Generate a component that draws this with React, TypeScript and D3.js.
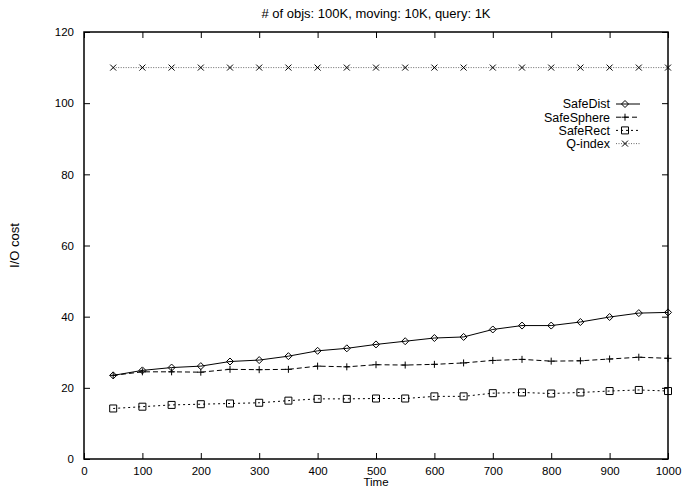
import { useEffect, useRef } from "react";
import * as d3 from "d3";

const times = [50, 100, 150, 200, 250, 300, 350, 400, 450, 500, 550, 600, 650, 700, 750, 800, 850, 900, 950, 1000];
const safeDist = [23.5, 24.9, 25.7, 26.1, 27.4, 27.8, 28.9, 30.4, 31.1, 32.2, 33.1, 34.0, 34.3, 36.4, 37.5, 37.5, 38.5, 39.9, 41.0, 41.2];
const safeSphere = [23.5, 24.5, 24.5, 24.4, 25.2, 25.1, 25.2, 26.1, 25.9, 26.5, 26.4, 26.6, 27.0, 27.7, 28.0, 27.5, 27.6, 28.1, 28.6, 28.3];
const safeRect = [14.2, 14.7, 15.2, 15.4, 15.6, 15.8, 16.4, 16.9, 16.9, 17.0, 17.0, 17.6, 17.6, 18.5, 18.7, 18.4, 18.7, 19.1, 19.4, 19.1];
const qIndex = [110, 110, 110, 110, 110, 110, 110, 110, 110, 110, 110, 110, 110, 110, 110, 110, 110, 110, 110, 110];
const seriesNames = ["SafeDist", "SafeSphere", "SafeRect", "Q-index"];
const xTicks = [0, 100, 200, 300, 400, 500, 600, 700, 800, 900, 1000];
const yTicks = [0, 20, 40, 60, 80, 100, 120];

const width = 683;
const height = 489;
const margin = { top: 32, right: 15, bottom: 30, left: 84 };
const font = "'Liberation Sans', Arial, Helvetica, sans-serif";

const styles = [
  { dash: null, marker: "diamond", color: "#000", w: 1 },
  { dash: "5,3", marker: "plus", color: "#000", w: 1 },
  { dash: "2,3", marker: "square", color: "#000", w: 1 },
  { dash: "1,1.5", marker: "cross", color: "#444", w: 0.8 },
];

const markerPath = (type: string, x: number, y: number) => {
  const s = 3.5;
  switch (type) {
    case "diamond":
      return `M${x},${y - s}L${x + s},${y}L${x},${y + s}L${x - s},${y}Z`;
    case "plus":
      return `M${x - s},${y}H${x + s}M${x},${y - s}V${y + s}`;
    case "square":
      return `M${x - s},${y - s}H${x + s}V${y + s}H${x - s}Z`;
    default:
      return `M${x - 3},${y - 3}L${x + 3},${y + 3}M${x - 3},${y + 3}L${x + 3},${y - 3}`;
  }
};

const App = () => {
  const ref = useRef<SVGSVGElement>(null);

  useEffect(() => {
    const svg = d3.select(ref.current);
    svg.selectAll("*").remove();

    const x = d3.scaleLinear().domain([0, 1000]).range([margin.left, width - margin.right]);
    const y = d3.scaleLinear().domain([0, 120]).range([height - margin.bottom, margin.top]);
    const bottom = height - margin.bottom;
    const right = width - margin.right;

    // ticks point inward, mirrored on top and right like gnuplot
    svg.append("g").attr("transform", `translate(0,${bottom})`)
      .call(d3.axisBottom(x).tickValues(xTicks).tickFormat(d3.format("d")).tickSize(-6).tickPadding(8).tickSizeOuter(0))
      .select(".domain").remove();
    svg.append("g").attr("transform", `translate(0,${margin.top})`)
      .call(d3.axisTop(x).tickValues(xTicks).tickSize(-6).tickFormat(() => "").tickSizeOuter(0))
      .select(".domain").remove();

    svg.append("g").attr("transform", `translate(${margin.left},0)`)
      .call(d3.axisLeft(y).tickValues(yTicks).tickSize(-6).tickPadding(10).tickSizeOuter(0))
      .select(".domain").remove();
    svg.append("g").attr("transform", `translate(${right},0)`)
      .call(d3.axisRight(y).tickValues(yTicks).tickSize(-6).tickFormat(() => "").tickSizeOuter(0))
      .select(".domain").remove();

    svg.selectAll(".tick text").attr("font-family", font).attr("font-size", 11.5).attr("fill", "#000");
    svg.selectAll(".tick line").attr("stroke", "#000");

    svg.append("rect")
      .attr("x", margin.left).attr("y", margin.top)
      .attr("width", right - margin.left).attr("height", bottom - margin.top)
      .attr("fill", "none").attr("stroke", "#000").attr("stroke-width", 1.5);

    const allSeries = [safeDist, safeSphere, safeRect, qIndex];
    const line = d3.line<number>().x((_, i) => x(times[i])).y((d) => y(d));

    allSeries.forEach((vals, k) => {
      const st = styles[k];
      svg.append("path")
        .attr("d", line(vals))
        .attr("fill", "none")
        .attr("stroke", st.color)
        .attr("stroke-width", st.w)
        .attr("stroke-dasharray", st.dash);
      svg.append("g").selectAll("path").data(vals).join("path")
        .attr("d", (d, i) => markerPath(st.marker, x(times[i]), y(d)))
        .attr("fill", "none")
        .attr("stroke", "#000")
        .attr("stroke-width", 1);
    });

    // legend
    const legend = svg.append("g");
    seriesNames.forEach((name, k) => {
      const st = styles[k];
      const ly = 104 + k * 13.2;
      legend.append("text")
        .attr("x", 610).attr("y", ly).attr("dy", "0.35em")
        .attr("text-anchor", "end")
        .attr("font-family", font).attr("font-size", 12.5)
        .text(name);
      legend.append("line")
        .attr("x1", 616).attr("x2", 640).attr("y1", ly).attr("y2", ly)
        .attr("stroke", st.color).attr("stroke-width", st.w)
        .attr("stroke-dasharray", st.dash);
      legend.append("path")
        .attr("d", markerPath(st.marker, 625, ly))
        .attr("fill", "none").attr("stroke", "#000");
    });

    svg.append("text")
      .attr("x", (margin.left + right) / 2).attr("y", 18)
      .attr("text-anchor", "middle")
      .attr("font-family", font).attr("font-size", 13)
      .text("# of objs: 100K, moving: 10K, query: 1K");

    svg.append("text")
      .attr("x", (margin.left + right) / 2).attr("y", 486)
      .attr("text-anchor", "middle")
      .attr("font-family", font).attr("font-size", 11.5)
      .text("Time");

    svg.append("text")
      .attr("transform", `translate(19,${(margin.top + bottom) / 2}) rotate(-90)`)
      .attr("text-anchor", "middle")
      .attr("font-family", font).attr("font-size", 13)
      .text("I/O cost");
  }, []);

  return (
    <div style={{ position: "absolute", left: 0, top: 0 }}>
      <svg ref={ref} width={width} height={height} viewBox={`0 0 ${width} ${height}`} style={{ display: "block", background: "#fff" }} />
    </div>
  );
};

export default App;
